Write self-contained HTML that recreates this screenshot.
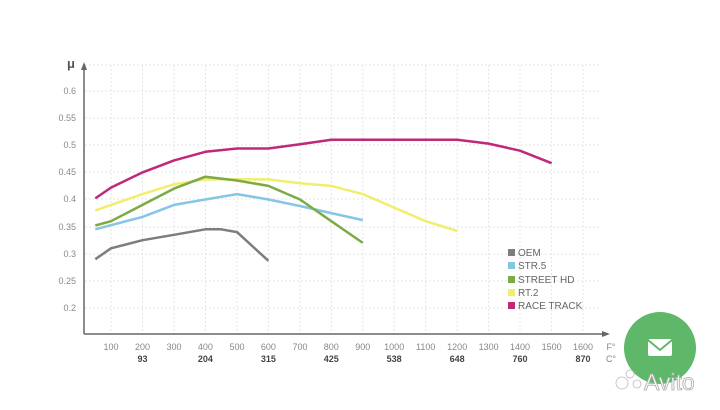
<!DOCTYPE html>
<html><head><meta charset="utf-8"><style>
body{margin:0;width:720px;height:405px;background:#fff;overflow:hidden;font-family:"Liberation Sans",sans-serif}
</style></head><body>
<svg width="720" height="405" viewBox="0 0 720 405" xmlns="http://www.w3.org/2000/svg">
<g stroke="#e4e4e4" stroke-width="1" stroke-dasharray="2,2">
<line x1="85" x2="600" y1="308" y2="308"/><line x1="85" x2="600" y1="281" y2="281"/><line x1="85" x2="600" y1="254" y2="254"/><line x1="85" x2="600" y1="227" y2="227"/><line x1="85" x2="600" y1="199" y2="199"/><line x1="85" x2="600" y1="172" y2="172"/><line x1="85" x2="600" y1="145" y2="145"/><line x1="85" x2="600" y1="118" y2="118"/><line x1="85" x2="600" y1="91" y2="91"/><line x1="85" x2="600" y1="65" y2="65"/>
<line x1="111" x2="111" y1="65" y2="334"/><line x1="142.5" x2="142.5" y1="65" y2="334"/><line x1="174" x2="174" y1="65" y2="334"/><line x1="205.4" x2="205.4" y1="65" y2="334"/><line x1="237" x2="237" y1="65" y2="334"/><line x1="268.4" x2="268.4" y1="65" y2="334"/><line x1="300" x2="300" y1="65" y2="334"/><line x1="331.3" x2="331.3" y1="65" y2="334"/><line x1="362.8" x2="362.8" y1="65" y2="334"/><line x1="394.2" x2="394.2" y1="65" y2="334"/><line x1="425.7" x2="425.7" y1="65" y2="334"/><line x1="457.2" x2="457.2" y1="65" y2="334"/><line x1="488.6" x2="488.6" y1="65" y2="334"/><line x1="520" x2="520" y1="65" y2="334"/><line x1="551.6" x2="551.6" y1="65" y2="334"/><line x1="583" x2="583" y1="65" y2="334"/>
</g>
<g stroke="#666" stroke-width="1.5" fill="none">
<line x1="84" y1="334" x2="84" y2="66"/><line x1="84" y1="334" x2="606" y2="334"/>
</g>
<path d="M81,70 L84,62 L87,70Z" fill="#666"/><path d="M602,331 L610,334 L602,337Z" fill="#666"/>
<text x="67" y="68" font-size="13" font-weight="bold" fill="#555">μ</text>
<g font-size="9" fill="#888" text-anchor="end">
<text x="76" y="94">0.6</text><text x="76" y="121">0.55</text><text x="76" y="148">0.5</text><text x="76" y="175">0.45</text><text x="76" y="202">0.4</text><text x="76" y="230">0.35</text><text x="76" y="257">0.3</text><text x="76" y="284">0.25</text><text x="76" y="311">0.2</text>
</g>
<g font-size="9" fill="#888" text-anchor="middle">
<text x="111" y="350">100</text><text x="142.5" y="350">200</text><text x="174" y="350">300</text><text x="205.4" y="350">400</text><text x="237" y="350">500</text><text x="268.4" y="350">600</text><text x="300" y="350">700</text><text x="331.3" y="350">800</text><text x="362.8" y="350">900</text><text x="394.2" y="350">1000</text><text x="425.7" y="350">1100</text><text x="457.2" y="350">1200</text><text x="488.6" y="350">1300</text><text x="520" y="350">1400</text><text x="551.6" y="350">1500</text><text x="583" y="350">1600</text><text x="611" y="350">F°</text><text x="611" y="362">C°</text>
</g>
<g font-size="9" fill="#444" font-weight="bold" text-anchor="middle">
<text x="142.5" y="362">93</text><text x="205.4" y="362">204</text><text x="268.4" y="362">315</text><text x="331.3" y="362">425</text><text x="394.2" y="362">538</text><text x="457.2" y="362">648</text><text x="520" y="362">760</text><text x="583" y="362">870</text>
</g>
<g fill="none" stroke-width="2.5" stroke-linejoin="round">
<polyline stroke="#7d7d7d" points="95.3,259.2 111,248.3 142.5,240.2 174,234.8 205.4,229.3 221,229.3 237,232.1 268.4,260.8"/>
<polyline stroke="#86c5e6" points="95.3,229.3 142.5,216.9 174,204.9 205.4,199.5 237,194.1 268.4,199.5 300,206 331.3,213.1 362.8,220.1"/>
<polyline stroke="#f0ee6a" points="95.3,210.4 111,204.9 142.5,194.1 174,184.3 205.4,179.4 237,179.4 268.4,179.4 300,183.2 331.3,185.9 362.8,194.1 394.2,207.6 425.7,221.2 457.2,231"/>
<polyline stroke="#7cab45" points="95.3,225.5 111,221.2 142.5,204.9 174,188.6 205.4,176.7 237,180.5 268.4,185.9 300,199.5 331.3,221.2 362.8,242.9"/>
<polyline stroke="#c0287a" points="95.3,198.4 111,187.6 142.5,172.4 174,160.4 205.4,151.8 237,148.5 268.4,148.5 300,144.2 331.3,139.8 457.2,139.8 488.6,143.6 520,150.7 551.6,163.2"/>
</g>
<g font-size="10" fill="#666">
<rect x="508" y="249" width="7" height="7" fill="#7d7d7d"/><text x="518" y="256">OEM</text>
<rect x="508" y="262" width="7" height="7" fill="#86c5e6"/><text x="518" y="269">STR.5</text>
<rect x="508" y="276" width="7" height="7" fill="#7cab45"/><text x="518" y="283">STREET HD</text>
<rect x="508" y="289" width="7" height="7" fill="#f0ee6a"/><text x="518" y="296">RT.2</text>
<rect x="508" y="302" width="7" height="7" fill="#c0287a"/><text x="518" y="309">RACE TRACK</text>
</g>
<circle cx="660" cy="348" r="36" fill="#5fb86a"/>
<rect x="648" y="339" width="24" height="17" rx="2" fill="#fff"/>
<polyline points="648,340 660,350 672,340" fill="none" stroke="#5fb86a" stroke-width="2"/>
<g fill="#fff" stroke="#bbb" stroke-width="0.8"><circle cx="622" cy="383" r="6"/><circle cx="630" cy="374" r="4"/><circle cx="637" cy="384" r="4"/></g>
<text x="644" y="390" font-size="23" fill="#fff" stroke="#aaa" stroke-width="0.8">Avito</text>
</svg>
</body></html>
